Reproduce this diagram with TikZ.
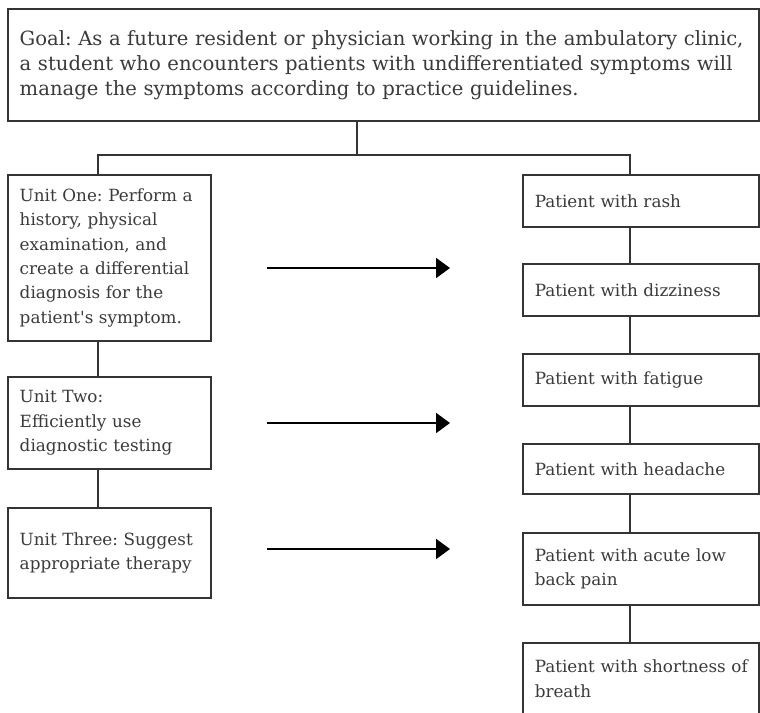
\documentclass[tikz,border=0pt]{standalone}
\usepackage{fontspec}
\usepackage{tikz}
\usetikzlibrary{arrows.meta, positioning}
\newfontfamily\slabfont{DejaVu Serif}
\definecolor{boxline}{RGB}{52,52,52}
\definecolor{boxtext}{RGB}{58,58,58}
\tikzset{
  unitbox/.style={draw=boxline, line width=1.5pt, rectangle, anchor=north west,
    inner xsep=12pt, inner ysep=4pt, align=left, text=boxtext,
    font=\slabfont\fontsize{16.8}{24.3}\selectfont\frenchspacing},
  goalbox/.style={unitbox, font=\slabfont\fontsize{19.6}{25}\selectfont\frenchspacing},
  link/.style={draw=boxline, line width=1.4pt},
  flow/.style={draw=black, line width=2pt, -{Triangle[length=14pt, width=20pt]}}
}
\begin{document}
\begin{tikzpicture}[x=1pt, y=-1pt]
\clip (0,0) rectangle (760,712);
\fill[white] (0,0) rectangle (760,712);
% ======== goal ========
\node[goalbox, text width=727pt, minimum height=112pt] (goal) at (7,8)
  {Goal: As a future resident or physician working in the ambulatory clinic,\\
   a student who encounters patients with undifferentiated symptoms will\\
   manage the symptoms according to practice guidelines.};
% ======== units (left column) ========
\node[unitbox, text width=179pt, minimum height=166pt] (unitone) at (7,174)
  {Unit One: Perform a\\ history, physical\\ examination, and\\ create a differential\\ diagnosis for the\\ patient's symptom.};
\node[unitbox, text width=179pt, minimum height=92pt] (unittwo) at (7,376)
  {Unit Two:\\ Efficiently use\\ diagnostic testing};
\node[unitbox, text width=179pt, minimum height=90pt] (unitthree) at (7,507)
  {Unit Three: Suggest\\ appropriate therapy};
% ======== patients (right column) ========
\node[unitbox, text width=212pt, minimum height=52pt] (rash) at (522,174) {Patient with rash};
\node[unitbox, text width=212pt, minimum height=52pt] (dizzy) at (522,263) {Patient with dizziness};
\node[unitbox, text width=212pt, minimum height=52pt] (fatigue) at (522,353) {Patient with fatigue};
\node[unitbox, text width=212pt, minimum height=50pt] (headache) at (522,443) {Patient with headache};
\node[unitbox, text width=212pt, minimum height=72pt] (backpain) at (522,532)
  {Patient with acute low\\ back pain};
\node[unitbox, text width=212pt, minimum height=72pt] (breath) at (522,642)
  {\mbox{Patient with shortness of}\\ breath};
% ======== tree ========
\coordinate (lcol) at (98,0);
\coordinate (rcol) at (630,0);
\coordinate (split) at (357,155);
\draw[link] (goal.south -| split) -- (split);
\draw[link] (unitone.north -| lcol) |- (split) -| (rash.north -| rcol);
\draw[link] (unitone.south -| lcol) -- (unittwo.north -| lcol);
\draw[link] (unittwo.south -| lcol) -- (unitthree.north -| lcol);
\foreach \a/\b in {rash/dizzy, dizzy/fatigue, fatigue/headache, headache/backpain, backpain/breath}
  \draw[link] (\a.south -| rcol) -- (\b.north -| rcol);
% arrows from units to patients
\coordinate (s1) at (267,268); \coordinate (e1) at (450,268);
\coordinate (s2) at (267,423); \coordinate (e2) at (450,423);
\coordinate (s3) at (267,549); \coordinate (e3) at (450,549);
\foreach \i in {1,2,3} \draw[flow] (s\i) -- (e\i);
\end{tikzpicture}
\end{document}
